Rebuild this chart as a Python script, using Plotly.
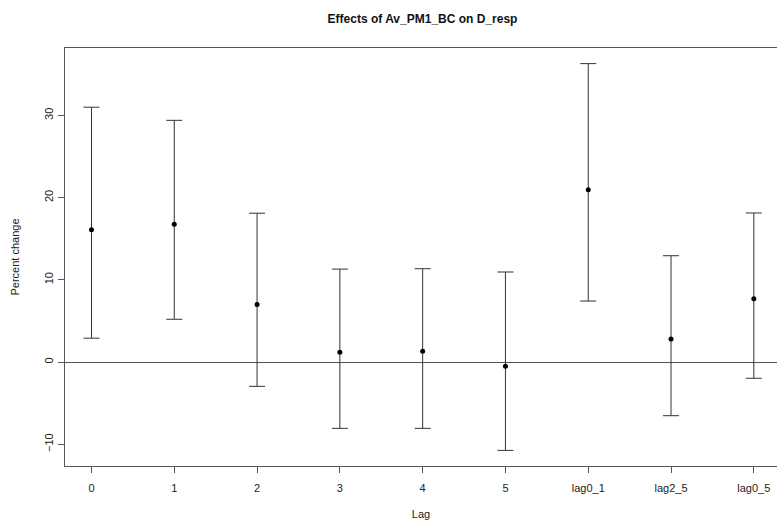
import plotly.graph_objects as go

lags = ["0", "1", "2", "3", "4", "5", "lag0_1", "lag2_5", "lag0_5"]
estimate = [16.1, 16.75, 7.0, 1.2, 1.3, -0.53, 20.96, 2.8, 7.7]
upper = [31.0, 29.4, 18.1, 11.3, 11.35, 10.95, 36.3, 12.93, 18.13]
lower = [2.9, 5.2, -2.96, -8.07, -8.07, -10.75, 7.42, -6.53, -1.98]
y_ticks = [-10, 0, 10, 20, 30]

plus = [u - e for u, e in zip(upper, estimate)]
minus = [e - l for e, l in zip(estimate, lower)]

font_family = "Liberation Sans, Arial, Helvetica, sans-serif"

W, H = 777, 521

fig = go.Figure(go.Scatter(
    x=lags, y=estimate, mode="markers",
    marker=dict(color="black", size=5),
    error_y=dict(type="data", symmetric=False, array=plus, arrayminus=minus,
                 color="#333333", thickness=1, width=8),
    showlegend=False, hoverinfo="x+y",
))

fig.update_layout(
    width=W, height=H,
    margin=dict(l=65, r=0, t=48, b=55),
    paper_bgcolor="white", plot_bgcolor="white",
    font=dict(family=font_family, size=11, color="#222222"),
    title=dict(text="<b>Effects of Av_PM1_BC on D_resp</b>",
               x=422.5 / W, xanchor="center", y=1 - 19 / H, yanchor="middle",
               font=dict(size=12, color="#111111")),
)

fig.update_xaxes(
    type="category", range=[-0.32, 8.28],
    showline=True, linecolor="#555555", linewidth=1, mirror=True,
    ticks="outside", ticklen=6, tickcolor="#555555", tickwidth=1,
    showgrid=False, zeroline=False, ticklabelstandoff=6,
    title=dict(text="Lag", standoff=17, font=dict(size=11)),
)
fig.update_yaxes(
    range=[-12.65, 38.2], tickvals=y_ticks, tickangle=-90,
    showline=True, linecolor="#555555", linewidth=1, mirror=False,
    ticks="outside", ticklen=6, tickcolor="#555555", tickwidth=1,
    showgrid=False, zeroline=True, zerolinecolor="#555555", zerolinewidth=1,
    ticklabelstandoff=1,
    title=dict(text="Percent change", standoff=20, font=dict(size=11)),
)

fig.write_html(
    "out.html",
    config={"displayModeBar": False},
    post_script="document.body.style.margin='0';document.body.style.overflow='hidden';",
)
